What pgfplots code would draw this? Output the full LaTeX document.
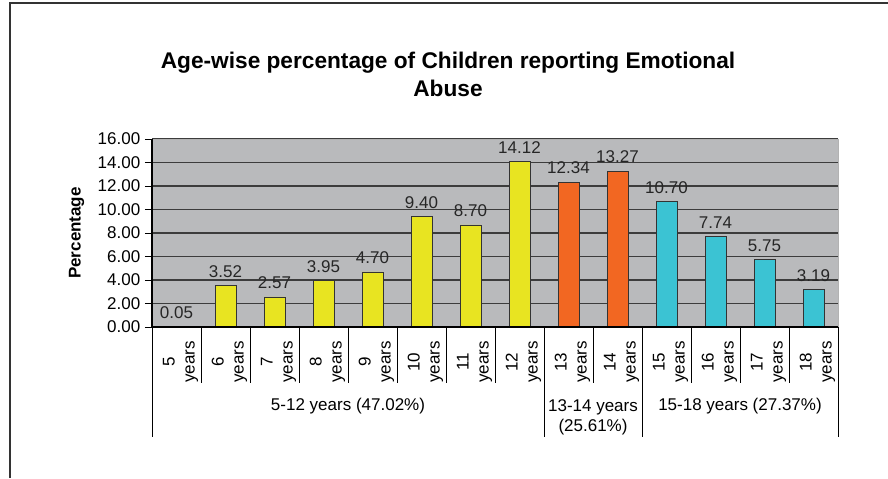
\documentclass[border=0pt]{standalone}
\usepackage{fontspec}
\setmainfont{Liberation Sans}
\usepackage{pgfplots}
\pgfplotsset{compat=1.18}

\definecolor{plotbg}{HTML}{B9BABC}
\definecolor{yelbar}{HTML}{E8E421}
\definecolor{orabar}{HTML}{F26722}
\definecolor{cyabar}{HTML}{3BC3D3}
\definecolor{gridc}{HTML}{3C3C3C}
\definecolor{barline}{HTML}{333333}

\newcommand{\lblfont}{\fontsize{12.75}{15}\selectfont}

\begin{document}
\begin{tikzpicture}
\useasboundingbox (-114pt,-113.25pt) rectangle (552pt,245.25pt);
\begin{axis}[
    at={(0pt,0pt)}, anchor=south west,
    scale only axis, width=514.5pt, height=141pt,
    ybar, bar width=15.5pt,
    xmin=-0.5, xmax=13.5, ymin=0, ymax=16,
    enlargelimits=false,
    ytick={0,2,...,16},
    ytick pos=left,
    xtick={0,...,13},
    xticklabels={{5\\years},{6\\years},{7\\years},{8\\years},{9\\years},{10\\years},{11\\years},{12\\years},{13\\years},{14\\years},{15\\years},{16\\years},{17\\years},{18\\years}},
    x tick style={draw=none},
    y tick style={black, line width=0.6pt},
    tick align=outside, major tick length=5.25pt,
    ymajorgrids, grid style={gridc, line width=0.8pt},
    axis background/.style={fill=plotbg},
    axis line style={draw=gray!60},
    clip=false,
    tick label style={font=\lblfont},
    /pgf/number format/assume math mode=true,
    yticklabel style={/pgf/number format/fixed, /pgf/number format/fixed zerofill, /pgf/number format/precision=2},
    x tick label style={yshift=-2pt, xshift=3pt, rotate=90, anchor=east, align=center},
    ylabel={Percentage},
    ylabel style={at={(axis description cs:-0.11,0.5)}, anchor=center, font=\bfseries\lblfont},
    nodes near coords,
    every node near coord/.append style={font=\lblfont, text=black!85, yshift=2.5pt,
        /pgf/number format/fixed, /pgf/number format/fixed zerofill, /pgf/number format/precision=2},
]
\addplot[fill=yelbar, draw=barline, bar shift=0pt] coordinates {
    (0,0.05)(1,3.52)(2,2.57)(3,3.95)(4,4.70)(5,9.40)(6,8.70)(7,14.12)
};
\addplot[fill=orabar, draw=barline, bar shift=0pt] coordinates {
    (8,12.34)(9,13.27)
};
\addplot[fill=cyabar, draw=barline, bar shift=0pt] coordinates {
    (10,10.70)(11,7.74)(12,5.75)(13,3.19)
};

% axis lines
\draw[black, line width=0.8pt] (rel axis cs:0,0) -- (rel axis cs:1,0);
\draw[black, line width=0.8pt] (rel axis cs:0,1) -- (rel axis cs:0,0);

% category separators under the axis
\pgfplotsinvokeforeach{0.5,1.5,2.5,3.5,4.5,5.5,6.5,8.5,10.5,11.5,12.5}{
    \draw[black, line width=0.6pt] (axis cs:#1,0) -- ++(0pt,-42pt);
}
% group separators
\pgfplotsinvokeforeach{-0.5,7.5,9.5,13.5}{
    \draw[black, line width=0.6pt] (axis cs:#1,0) -- ++(0pt,-82.5pt);
}

% group labels
\node[font=\lblfont] at ([yshift=-59pt]axis cs:3.5,0) {5-12 years (47.02\%)};
\node[font=\lblfont, align=center] at ([yshift=-67.5pt]axis cs:8.5,0) {13-14 years\\(25.61\%)};
\node[font=\lblfont] at ([yshift=-59pt]axis cs:11.5,0) {15-18 years (27.37\%)};
\end{axis}

% title
\node[align=center, font=\bfseries\fontsize{17}{21}\selectfont] at (222pt,189.75pt)
    {Age-wise percentage of Children reporting Emotional\\Abuse};

% outer frame
\draw[black!80, line width=0.8pt] (-106.5pt,-113.25pt) -- (-106.5pt,243pt) -- (552pt,243pt);
\end{tikzpicture}
\end{document}
